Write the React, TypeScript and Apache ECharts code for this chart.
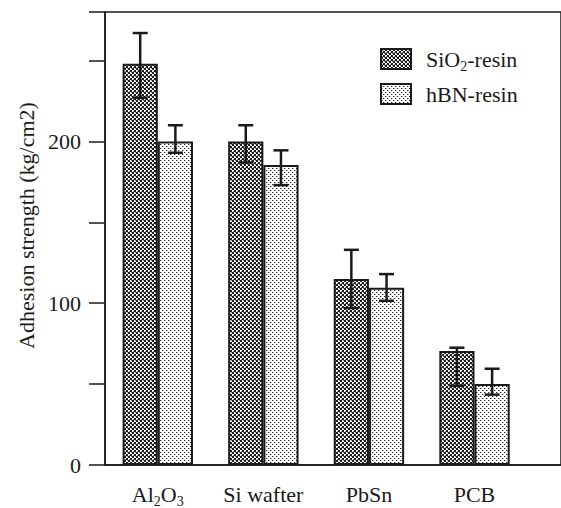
import React, { useEffect, useRef } from "react";
import * as echarts from "echarts";

const categories = ["Al2O3", "Si wafter", "PbSn", "PCB"];
const seriesNames = ["SiO2-resin", "hBN-resin"];
const sio2Values = [248, 200, 115, 70.5];
const sio2Low = [227, 187, 97, 49];
const sio2High = [267, 210, 133, 72.5];
const hbnValues = [200, 185.5, 109.5, 50];
const hbnLow = [193, 173, 101.5, 43.5];
const hbnHigh = [210, 194.5, 118, 59.5];
const yTicks = [0, 100, 200];

const FONT = "Liberation Serif";
const INK = "#1a1a1a";

function sub(s: string) {
  return s.replace(/(\d)/g, "{s|$1}");
}

function makeTile(kind: "dark" | "light") {
  const c = document.createElement("canvas");
  c.width = 4;
  c.height = 4;
  const ctx = c.getContext("2d")!;
  ctx.fillStyle = "#ffffff";
  ctx.fillRect(0, 0, 4, 4);
  if (kind === "dark") {
    ctx.fillStyle = "#1c1c1c";
    ctx.fillRect(0, 0, 2, 2);
    ctx.fillRect(2, 2, 2, 2);
    ctx.fillStyle = "#8a8a8a";
    ctx.fillRect(3, 0, 1, 1);
    ctx.fillRect(1, 3, 1, 1);
  } else {
    ctx.fillStyle = "#2a2a2a";
    ctx.fillRect(0, 0, 1, 1);
    ctx.fillRect(2, 2, 1, 1);
    ctx.fillStyle = "#b0b0b0";
    ctx.fillRect(1, 0, 1, 1);
    ctx.fillRect(3, 2, 1, 1);
  }
  return c;
}

export default function App() {
  const ref = useRef<HTMLDivElement>(null);
  useEffect(() => {
    if (!ref.current) return;
    const chart = echarts.init(ref.current, undefined, { renderer: "svg" });
    const darkTile = makeTile("dark");
    const lightTile = makeTile("light");
    const darkFill: any = { image: darkTile, repeat: "repeat", imageWidth: 4, imageHeight: 4 };
    const lightFill: any = { image: lightTile, repeat: "repeat", imageWidth: 4, imageHeight: 4 };

    const richSub = {
      s: { fontSize: 14, lineHeight: 14, verticalAlign: "bottom", fontFamily: FONT, color: INK },
    };

    const errData: number[][] = [];
    categories.forEach((_, i) => {
      errData.push([i + 0.5, sio2Low[i], sio2High[i], 0]);
      errData.push([i + 0.5, hbnLow[i], hbnHigh[i], 1]);
    });

    const option: any = {
      animation: false,
      backgroundColor: "#ffffff",
      grid: {
        left: 105,
        top: 12,
        width: 460,
        height: 460,
        show: true,
        borderColor: INK,
        borderWidth: 1.5,
        backgroundColor: "transparent",
      },
      legend: {
        orient: "vertical",
        left: 380,
        top: 45,
        padding: 0,
        itemWidth: 30,
        itemHeight: 20,
        itemGap: 7,
        icon: "rect",
        data: seriesNames,
        formatter: (n: string) => sub(n),
        textStyle: {
          fontFamily: FONT,
          fontSize: 22,
          lineHeight: 28,
          color: INK,
          padding: [0, 0, 0, 10],
          rich: richSub,
        },
      },
      xAxis: {
        type: "value",
        min: 0,
        max: 460 / 106.5,
        interval: 0.5,
        splitLine: { show: false },
        axisTick: { show: false },
        axisLine: { show: true, lineStyle: { color: INK, width: 1.5 } },
        axisLabel: {
          showMaxLabel: false,
          margin: 15,
          fontFamily: FONT,
          fontSize: 22,
          lineHeight: 28,
          color: INK,
          rich: richSub,
          formatter: (v: number) => {
            const i = Math.round(v - 0.5);
            if (Math.abs(v - 0.5 - i) < 1e-6 && i >= 0 && i < categories.length) {
              return sub(categories[i]);
            }
            return "";
          },
        },
      },
      yAxis: {
        type: "value",
        min: 0,
        max: 280,
        interval: 50,
        name: "Adhesion strength (kg/cm2)",
        nameLocation: "middle",
        nameGap: 66,
        nameTextStyle: { fontFamily: FONT, fontSize: 22, color: INK, padding: [0, 0, 0, 26] },
        splitLine: { show: false },
        axisLine: { show: true, lineStyle: { color: INK, width: 1.5 } },
        axisTick: { show: true, length: 16, lineStyle: { color: INK, width: 1.5 } },
        axisLabel: {
          margin: 24,
          fontFamily: FONT,
          fontSize: 22,
          color: INK,
          formatter: (v: number) => (yTicks.indexOf(v) >= 0 ? String(v) : ""),
        },
      },
      series: [
        {
          name: seriesNames[0],
          type: "bar",
          barWidth: "33.33%",
          barGap: "0%",
          data: sio2Values.map((v, i) => [i + 0.5, v]),
          itemStyle: { color: darkFill, borderColor: INK, borderWidth: 2 },
        },
        {
          name: seriesNames[1],
          type: "bar",
          barWidth: "33.33%",
          barGap: "0%",
          data: hbnValues.map((v, i) => [i + 0.5, v]),
          itemStyle: { color: lightFill, borderColor: INK, borderWidth: 2 },
        },
        {
          name: "error",
          type: "custom",
          z: 10,
          encode: { x: 0, y: [1, 2] },
          data: errData,
          renderItem: (params: any, api: any) => {
            const x = api.value(0);
            const lo = api.value(1);
            const hi = api.value(2);
            const side = api.value(3);
            const unit = api.size([1, 0])[0];
            const bw = unit / 3;
            const off = side === 0 ? -bw / 2 : bw / 2;
            const pLo = api.coord([x, lo]);
            const pHi = api.coord([x, hi]);
            const cx = pLo[0] + off;
            const cap = 7.5;
            const style = { stroke: INK, lineWidth: 2.5, fill: "none" };
            return {
              type: "group",
              children: [
                { type: "line", shape: { x1: cx, y1: pLo[1], x2: cx, y2: pHi[1] }, style },
                { type: "line", shape: { x1: cx - cap, y1: pHi[1], x2: cx + cap, y2: pHi[1] }, style },
                { type: "line", shape: { x1: cx - cap, y1: pLo[1], x2: cx + cap, y2: pLo[1] }, style },
              ],
            };
          },
        },
      ],
    };
    chart.setOption(option);
    return () => chart.dispose();
  }, []);
  return (
    <div
      ref={ref}
      style={{ position: "fixed", left: 0, top: 0, width: 561, height: 508, background: "#fff" }}
    />
  );
}
